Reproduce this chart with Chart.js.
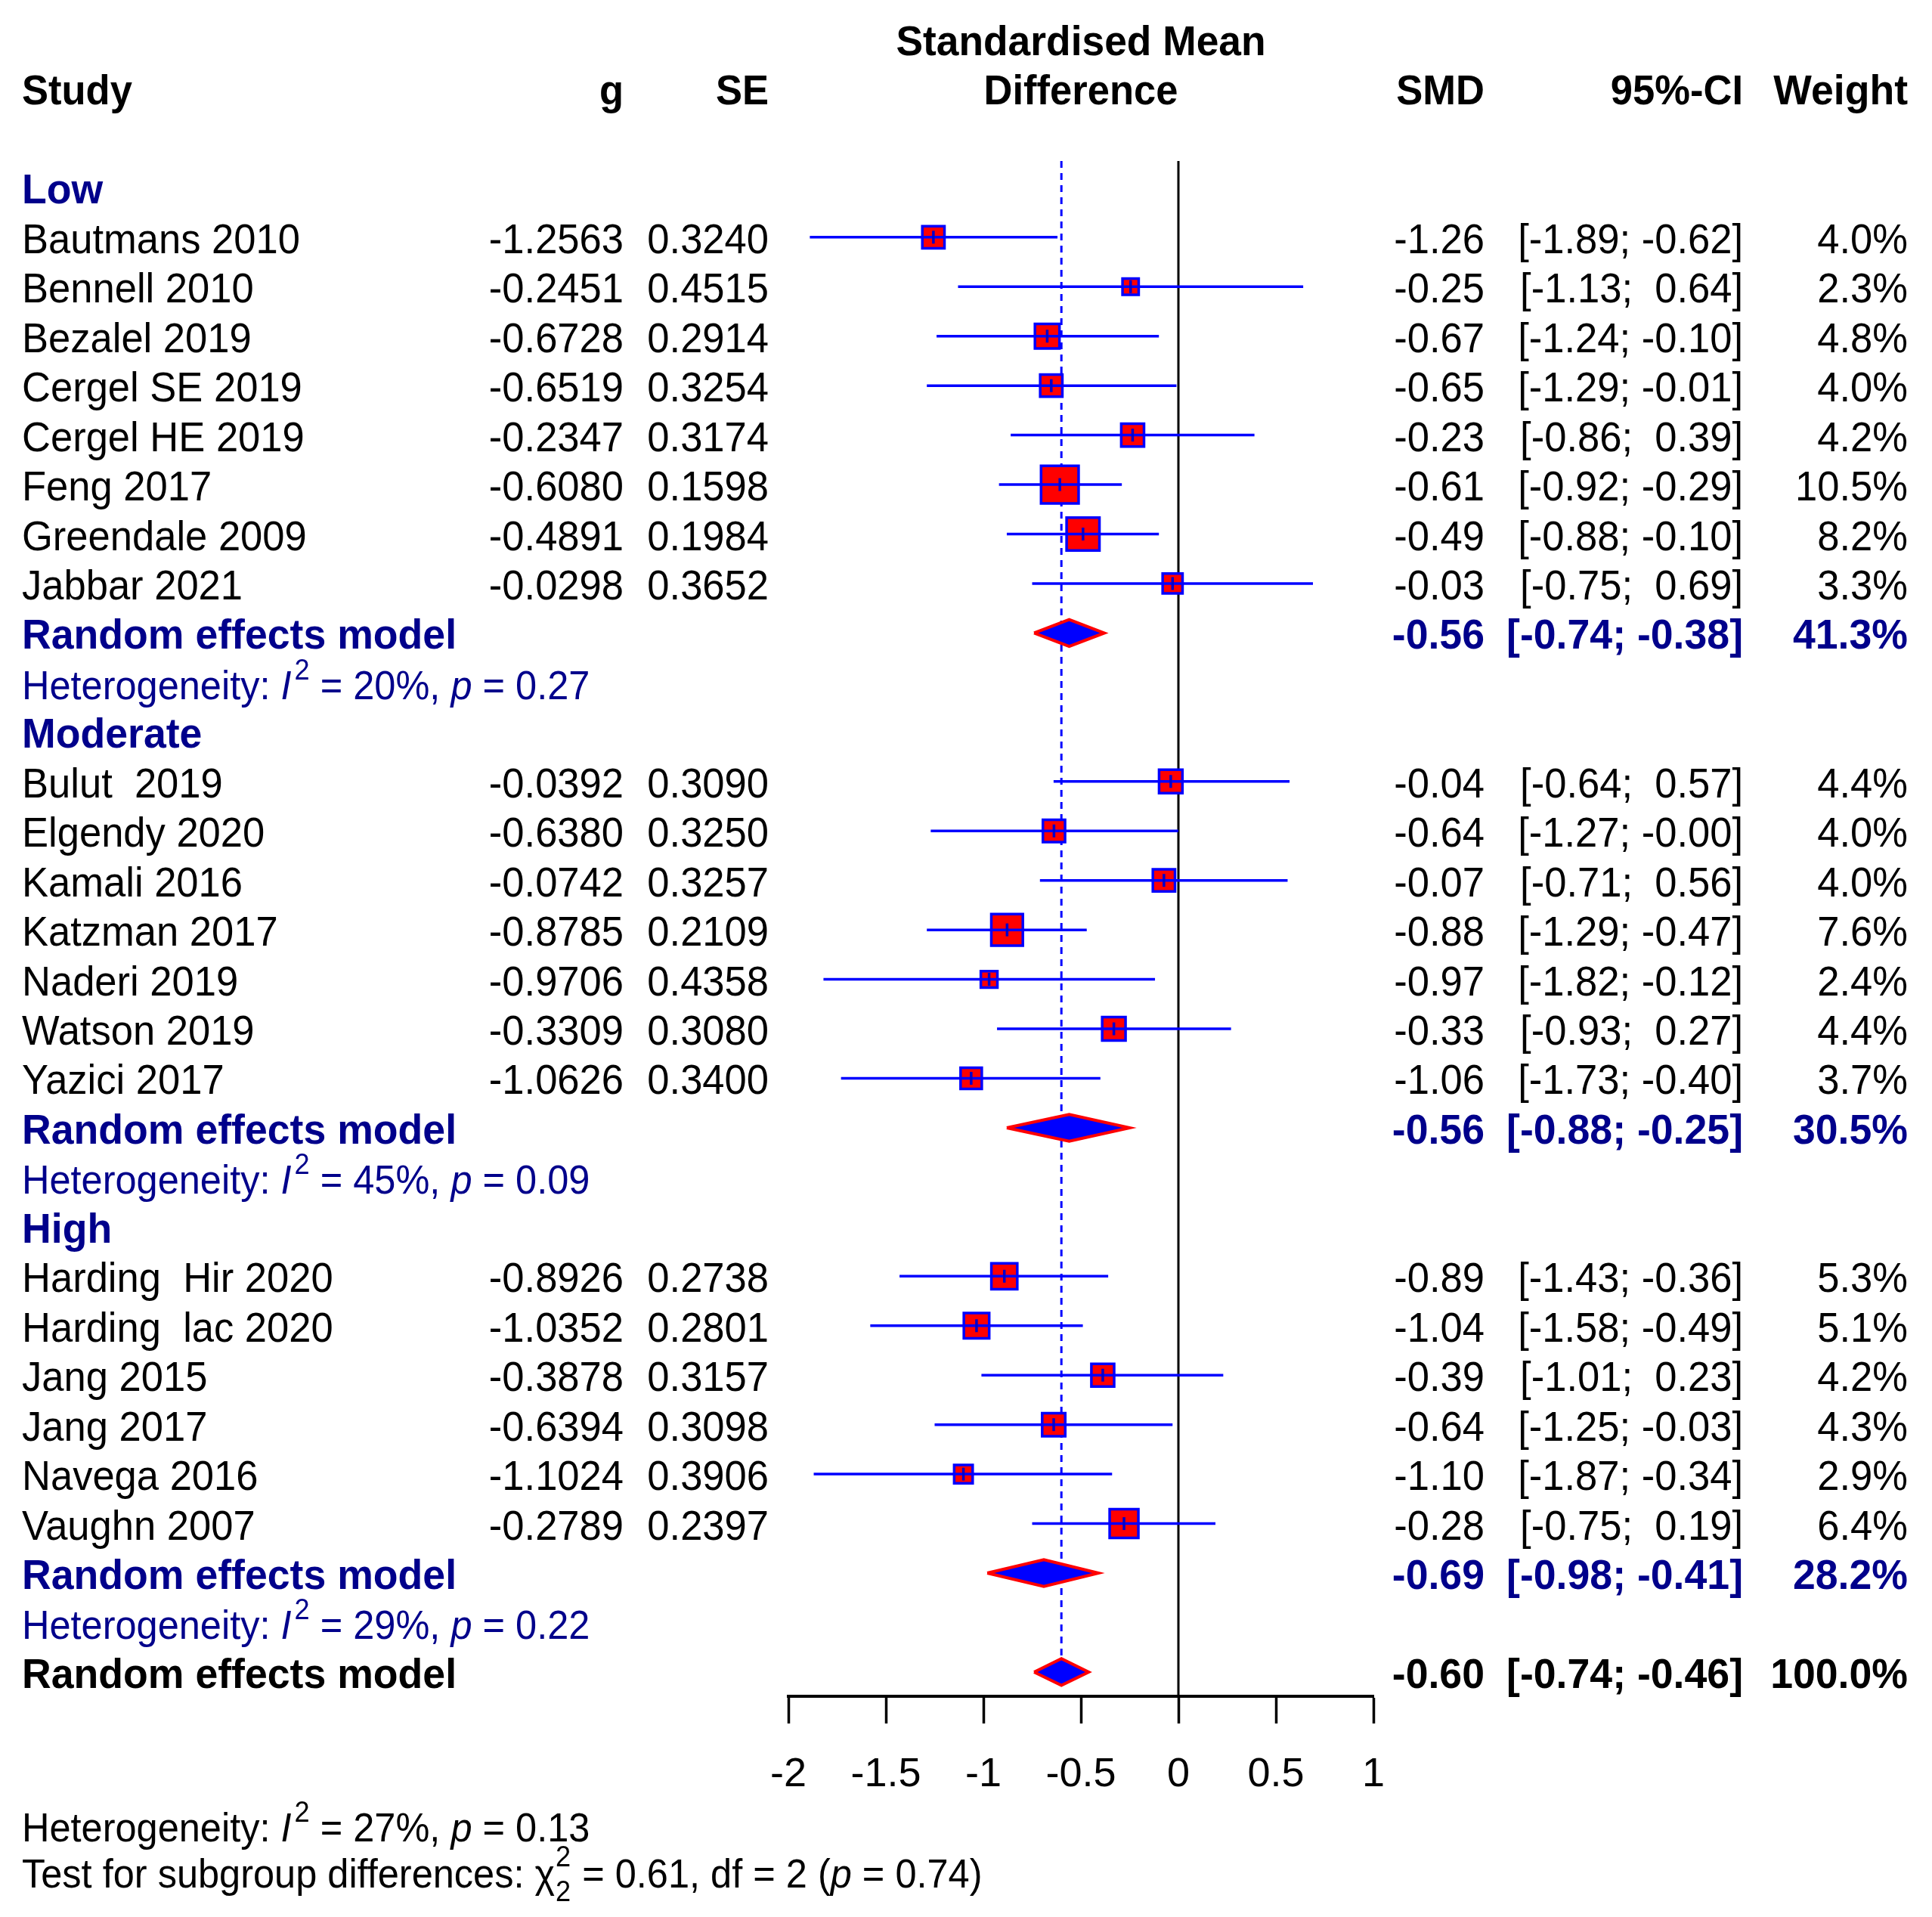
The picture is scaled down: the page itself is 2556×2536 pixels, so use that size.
<!DOCTYPE html>
<html><head><meta charset="utf-8">
<script src="https://cdn.jsdelivr.net/npm/chart.js@4.4.1/dist/chart.umd.min.js"></script>
<style>html,body{margin:0;padding:0;background:#fff;} canvas{display:block;}</style>
</head><body>
<canvas id="c" width="2556" height="2536" style="width:2556px;height:2536px"></canvas>
<script>
// ---------------- DATA ----------------
const groups = ["Low", "Moderate", "High"];
const studies = ["Bautmans 2010","Bennell 2010","Bezalel 2019","Cergel SE 2019","Cergel HE 2019","Feng 2017","Greendale 2009","Jabbar 2021",
  "Bulut  2019","Elgendy 2020","Kamali 2016","Katzman 2017","Naderi 2019","Watson 2019","Yazici 2017",
  "Harding  Hir 2020","Harding  lac 2020","Jang 2015","Jang 2017","Navega 2016","Vaughn 2007"];
const studyGroup = [0,0,0,0,0,0,0,0, 1,1,1,1,1,1,1, 2,2,2,2,2,2];
const g  = [-1.2563,-0.2451,-0.6728,-0.6519,-0.2347,-0.6080,-0.4891,-0.0298,
  -0.0392,-0.6380,-0.0742,-0.8785,-0.9706,-0.3309,-1.0626,
  -0.8926,-1.0352,-0.3878,-0.6394,-1.1024,-0.2789];
const se = [0.3240,0.4515,0.2914,0.3254,0.3174,0.1598,0.1984,0.3652,
  0.3090,0.3250,0.3257,0.2109,0.4358,0.3080,0.3400,
  0.2738,0.2801,0.3157,0.3098,0.3906,0.2397];
const smd = [-1.26,-0.25,-0.67,-0.65,-0.23,-0.61,-0.49,-0.03,
  -0.04,-0.64,-0.07,-0.88,-0.97,-0.33,-1.06,
  -0.89,-1.04,-0.39,-0.64,-1.10,-0.28];
const ciLow = [-1.89,-1.13,-1.24,-1.29,-0.86,-0.92,-0.88,-0.75,
  -0.64,-1.27,-0.71,-1.29,-1.82,-0.93,-1.73,
  -1.43,-1.58,-1.01,-1.25,-1.87,-0.75];
const ciHigh = [-0.62,0.64,-0.10,-0.01,0.39,-0.29,-0.10,0.69,
  0.57,-0.00,0.56,-0.47,-0.12,0.27,-0.40,
  -0.36,-0.49,0.23,-0.03,-0.34,0.19];
const weight = [4.0,2.3,4.8,4.0,4.2,10.5,8.2,3.3,
  4.4,4.0,4.0,7.6,2.4,4.4,3.7,
  5.3,5.1,4.2,4.3,2.9,6.4];
const subSMD = [-0.56,-0.56,-0.69];
const subLow = [-0.74,-0.88,-0.98];
const subHigh = [-0.38,-0.25,-0.41];
const subWeight = [41.3,30.5,28.2];
const subI2 = [20,45,29];
const subP = ["0.27","0.09","0.22"];
const overallSMD = -0.60, overallLow = -0.74, overallHigh = -0.46, overallWeight = 100.0;
const overallI2 = 27, overallP = "0.13";
const testChi2 = "0.61", testDf = 2, testP = "0.74";
const tickValues = [-2,-1.5,-1,-0.5,0,0.5,1];
const tickLabels = ["-2","-1.5","-1","-0.5","0","0.5","1"];

// ---------------- LAYOUT ----------------
const FONT = '"Liberation Sans", Arial, Helvetica, sans-serif';
const BLUE = '#0000FF', RED = '#FF0000', NAVY = '#00008B';
const Y_TOP = -0.54, Y_BOT = 30.49, DIAMOND_H = 0.27;

const studyRow = [], groupRow = [], remRow = [], hetRow = [];
let rr = 0;
groups.forEach((gr, gi) => {
  groupRow[gi] = rr++;
  studies.forEach((s, i) => { if (studyGroup[i] === gi) studyRow[i] = rr++; });
  remRow[gi] = rr++;
  hetRow[gi] = rr++;
});
const overallRow = rr;

const SQ_BORDER = 3.5;
function boxR(w) { return (16.4 * Math.sqrt(w) - SQ_BORDER) / (2 * Math.SQRT1_2); }

const datasets = [];
datasets.push({type:'line', data:[{x:0,y:Y_TOP},{x:0,y:Y_BOT}], borderColor:'#000', borderWidth:3,
  pointRadius:0, fill:false, order:10, clip:false});
datasets.push({type:'line', data:[{x:overallSMD,y:Y_TOP},{x:overallSMD,y:overallRow-DIAMOND_H}], borderColor:BLUE,
  borderWidth:3, borderDash:[9,7], pointRadius:0, fill:false, order:9, clip:false});
datasets.push({type:'scatter', data:g.map((v,i)=>({x:v,y:studyRow[i]})), pointStyle:'rect',
  pointRadius:c=>boxR(weight[c.dataIndex]), pointHoverRadius:c=>boxR(weight[c.dataIndex]),
  pointBackgroundColor:RED, pointBorderColor:BLUE, pointBorderWidth:SQ_BORDER, order:5, clip:false});
g.forEach((v,i)=>datasets.push({type:'line', data:[{x:ciLow[i],y:studyRow[i]},{x:ciHigh[i],y:studyRow[i]}],
  borderColor:BLUE, borderWidth:3.5, pointRadius:0, fill:false, order:4, clip:false}));
datasets.push({type:'scatter', data:g.map((v,i)=>({x:v,y:studyRow[i]})), pointStyle:'line', pointRotation:90,
  pointRadius:8.5, pointHoverRadius:8.5, pointBorderColor:'#0000CC', pointBackgroundColor:'#0000CC', pointBorderWidth:3.5, order:3, clip:false});
function diamond(est, lo, hi, row) {
  return {type:'line', data:[{x:lo,y:row},{x:est,y:row-DIAMOND_H},{x:hi,y:row},{x:est,y:row+DIAMOND_H},{x:lo,y:row}],
    borderColor:RED, borderWidth:4, backgroundColor:BLUE, fill:'shape', pointRadius:0, tension:0,
    borderJoinStyle:'miter', order:2, clip:false};
}
groups.forEach((gr,gi)=>datasets.push(diamond(subSMD[gi], subLow[gi], subHigh[gi], remRow[gi])));
datasets.push(diamond(overallSMD, overallLow, overallHigh, overallRow));

// ---------------- TEXT ----------------
function neg(v){ return v < 0 || Object.is(v, -0); }
function f2(v){ return (neg(v) ? '-' : '') + Math.abs(v).toFixed(2); }
function padn(v){ return neg(v) ? f2(v) : ' ' + f2(v); }
function ciStr(lo, hi){ return '[' + padn(lo) + '; ' + padn(hi) + ']'; }

function txt(ctx, s, x, y, o) {
  o = Object.assign({align:'left', bold:false, italic:false, size:55, sx:0.955, color:'#000'}, o || {});
  ctx.save();
  ctx.font = (o.italic ? 'italic ' : '') + (o.bold ? 'bold ' : '') + o.size + 'px ' + FONT;
  ctx.fillStyle = o.color; ctx.textAlign = o.align; ctx.textBaseline = 'alphabetic';
  ctx.translate(x, y); ctx.scale(o.sx, 1);
  ctx.fillText(s, 0, 0);
  const w = ctx.measureText(s).width * o.sx;
  ctx.restore();
  return w;
}
function hetLine(ctx, x, y, I2, p, color) {
  const o = {size:53, sx:0.953, color};
  x += txt(ctx, 'Heterogeneity: ', x, y, o);
  x += txt(ctx, 'I', x, y, Object.assign({}, o, {italic:true}));
  x += 4;
  x += txt(ctx, '2', x, y - 26, Object.assign({}, o, {size:38}));
  x += txt(ctx, ' = ' + I2 + '%, ', x, y, o);
  x += txt(ctx, 'p', x, y, Object.assign({}, o, {italic:true}));
  txt(ctx, ' = ' + p, x, y, o);
}
function testLine(ctx, x, y) {
  const o = {size:53, sx:0.953, color:'#000'};
  x += txt(ctx, 'Test for subgroup differences: ', x, y, o);
  x += txt(ctx, '\u03C7', x, y, o);
  const w1 = txt(ctx, '2', x + 1, y - 28, Object.assign({}, o, {size:38}));
  txt(ctx, String(testDf), x + 1, y + 18, Object.assign({}, o, {size:38}));
  x += w1 + 2;
  x += txt(ctx, ' = ' + testChi2 + ', df = ' + testDf + ' (', x, y, o);
  x += txt(ctx, 'p', x, y, Object.assign({}, o, {italic:true}));
  txt(ctx, ' = ' + testP + ')', x, y, o);
}

const NAME_X = 29, G_X = 825, SE_X = 1017, SMD_X = 1964, CI_X = 2306, W_X = 2524, BASE = 21;

const bgPlugin = { id:'bg', beforeDraw(chart){ const c = chart.ctx; c.save(); c.fillStyle = '#fff'; c.fillRect(0,0,chart.width,chart.height); c.restore(); } };
const textPlugin = {
  id: 'forestText',
  afterDraw(chart) {
    const ctx = chart.ctx, ys = chart.scales.y, ca = chart.chartArea;
    const Y = r => ys.getPixelForValue(r) + BASE;
    const MID = (ca.left + ca.right) / 2;
    const B = {bold:true};
    txt(ctx, 'Standardised Mean', MID, Y(-3), {bold:true, align:'center', sx:0.97});
    txt(ctx, 'Study', NAME_X, Y(-2), B);
    txt(ctx, 'g', G_X, Y(-2), {bold:true, align:'right'});
    txt(ctx, 'SE', SE_X, Y(-2), {bold:true, align:'right'});
    txt(ctx, 'Difference', MID, Y(-2), {bold:true, align:'center'});
    txt(ctx, 'SMD', SMD_X, Y(-2), {bold:true, align:'right'});
    txt(ctx, '95%-CI', CI_X, Y(-2), {bold:true, align:'right'});
    txt(ctx, 'Weight', W_X, Y(-2), {bold:true, align:'right', sx:0.975});

    studies.forEach((s, i) => {
      const y = Y(studyRow[i]);
      txt(ctx, s, NAME_X, y);
      txt(ctx, g[i].toFixed(4), G_X, y, {align:'right'});
      txt(ctx, se[i].toFixed(4), SE_X, y, {align:'right'});
      txt(ctx, f2(smd[i]), SMD_X, y, {align:'right'});
      txt(ctx, ciStr(ciLow[i], ciHigh[i]), CI_X, y, {align:'right'});
      txt(ctx, weight[i].toFixed(1) + '%', W_X, y, {align:'right'});
    });
    groups.forEach((gr, gi) => {
      const nb = {bold:true, color:NAVY, sx:0.975};
      txt(ctx, gr, NAME_X, Y(groupRow[gi]), nb);
      const y = Y(remRow[gi]);
      txt(ctx, 'Random effects model', NAME_X, y, nb);
      txt(ctx, f2(subSMD[gi]), SMD_X, y, Object.assign({align:'right'}, nb));
      txt(ctx, ciStr(subLow[gi], subHigh[gi]), CI_X, y, Object.assign({align:'right'}, nb));
      txt(ctx, subWeight[gi].toFixed(1) + '%', W_X, y, Object.assign({align:'right'}, nb));
      hetLine(ctx, NAME_X, Y(hetRow[gi]) + 1, subI2[gi], subP[gi], NAVY);
    });
    const yo = Y(overallRow);
    const bb = {bold:true, sx:0.975};
    txt(ctx, 'Random effects model', NAME_X, yo, bb);
    txt(ctx, f2(overallSMD), SMD_X, yo, Object.assign({align:'right'}, bb));
    txt(ctx, ciStr(overallLow, overallHigh), CI_X, yo, Object.assign({align:'right'}, bb));
    txt(ctx, overallWeight.toFixed(1) + '%', W_X, yo, Object.assign({align:'right'}, bb));
    hetLine(ctx, NAME_X, Y(33.1), overallI2, overallP, '#000');
    testLine(ctx, NAME_X, Y(34.04));
  }
};

new Chart(document.getElementById('c'), {
  type: 'scatter',
  data: { datasets },
  options: {
    responsive: false, devicePixelRatio: 1, animation: false, events: [],
    layout: { padding: { left: 1043, right: 739, top: 213, bottom: 142 } },
    plugins: { legend: { display: false }, tooltip: { enabled: false } },
    scales: {
      x: {
        type: 'linear', min: -2, max: 1, position: 'bottom',
        afterBuildTicks: s => { s.ticks = tickValues.map(v => ({ value: v })); },
        afterFit: s => { s.height = 150; },
        grid: { display: true, drawOnChartArea: false, drawTicks: true, tickLength: 36, tickWidth: 3.5, tickColor: '#000' },
        border: { display: true, color: '#000', width: 4 },
        ticks: { color: '#000', padding: 36, maxRotation: 0, autoSkip: false,
          font: { family: FONT, size: 54 }, callback: (v, i) => tickLabels[i] }
      },
      y: { type: 'linear', display: false, min: Y_TOP, max: Y_BOT, reverse: true }
    }
  },
  plugins: [bgPlugin, textPlugin]
});
</script>
</body></html>
